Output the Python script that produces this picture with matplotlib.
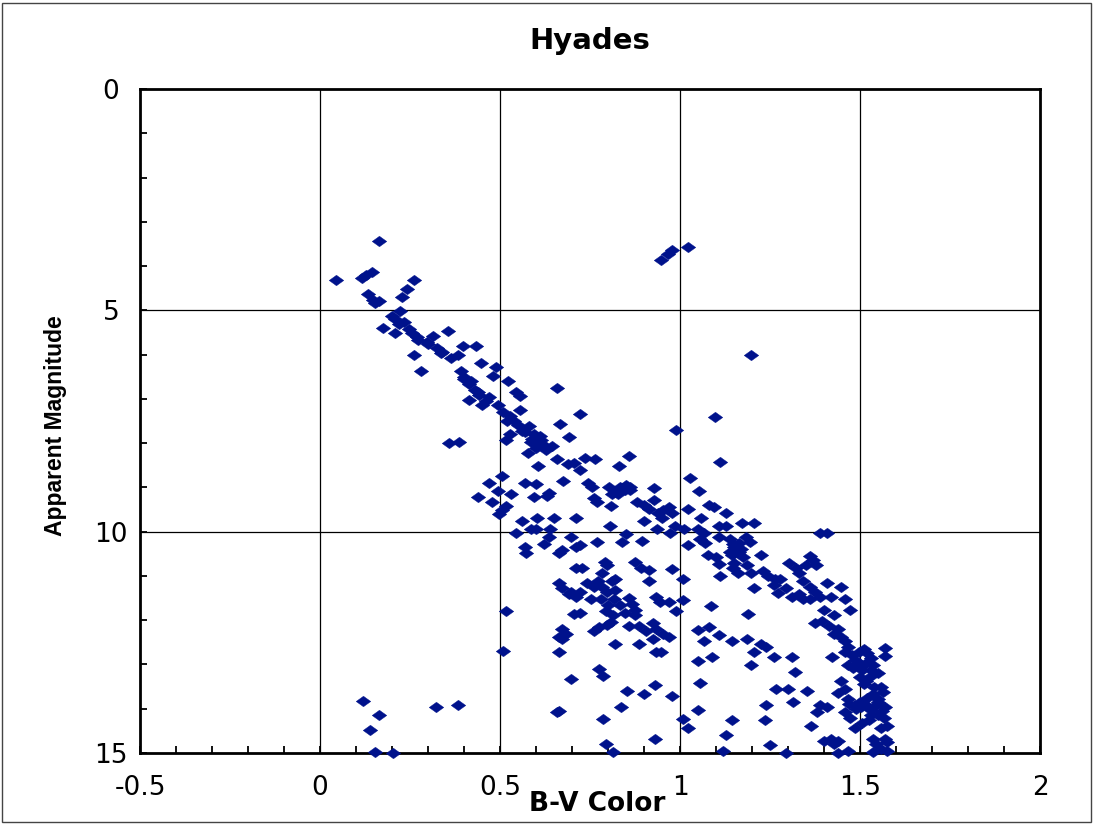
import matplotlib
matplotlib.use("Agg")
import matplotlib.pyplot as plt
from matplotlib.ticker import MultipleLocator
from matplotlib.patches import Rectangle

# Hyades colour-magnitude data: B-V colour index and apparent V magnitude
bv = [
    0.165, 0.045, 0.116, 0.128, 0.143, 0.132, 0.147, 0.165, 0.153, 0.262,
    0.242, 0.229, 0.174, 0.221, 0.200, 0.209, 0.209, 0.233, 0.246, 0.256,
    0.271, 0.260, 0.281, 0.298, 0.314, 0.324, 0.337, 0.355, 0.364, 0.382,
    0.397, 0.432, 0.448, 0.488, 0.391, 0.401, 0.415, 0.430, 0.442, 0.415,
    0.450, 0.481, 0.523, 0.543, 0.556, 0.494, 0.508, 0.527, 0.539, 0.556,
    0.516, 0.527, 0.581, 0.595, 0.608, 0.624, 0.578, 0.643, 0.657, 0.692,
    0.667, 0.721, 0.357, 0.386, 0.988, 1.097, 1.110, 1.196, 0.946, 0.967,
    0.979, 1.021, 0.562, 0.585, 0.614, 0.628,
    0.440, 0.460, 0.470, 0.520, 0.550, 0.570, 0.590, 0.610, 0.600, 0.300,
    0.340, 0.270, 0.220, 0.400, 0.420,
    # upper main sequence continuation
    0.657, 0.688, 0.705, 0.723, 0.736, 0.764, 0.674, 0.744, 0.756, 0.605,
    0.506, 0.469, 0.570, 0.599, 0.636, 0.630, 0.595, 0.531, 0.494, 0.438,
    0.479, 0.516, 0.506, 0.496, 0.562, 0.603, 0.649, 0.585, 0.601, 0.543,
    0.640, 0.570, 0.622, 0.572, 0.636, 0.663, 0.672, 0.698, 0.711, 0.721,
    0.769, 0.711, 0.760, 0.769, 0.831, 0.857, 0.802, 0.818, 0.834, 0.848,
    0.862, 0.812, 0.828, 0.808, 0.880, 0.899, 0.928, 0.928, 0.915, 0.940,
    0.953, 0.969, 0.977, 0.950, 0.901, 0.806, 0.839, 0.851, 0.895, 0.936,
    0.973, 0.986, 1.012, 1.023, 1.027, 1.054, 1.081, 1.093, 1.128, 1.058,
    1.050, 1.066, 1.109, 1.128, 1.171, 1.205, 1.021, 1.056, 1.070, 1.109,
    1.138, 1.147, 1.163, 1.182, 1.194, 1.079, 1.099, 1.143, 1.151, 1.163,
    1.176, 1.225, 1.109, 1.147, 1.186, 1.196, 1.231, 1.244, 1.112, 1.161,
    1.264, 1.205, 1.260, 1.279, 1.273, 1.293, 1.302, 1.322, 1.331, 1.351,
    1.360, 1.370, 1.378, 1.341, 1.360, 1.409, 1.390, 1.409, 1.312, 1.331,
    1.341, 1.360, 1.376, 1.390, 1.419, 1.448, 1.457, 1.399, 1.428, 1.473,
    1.376, 1.395,
    0.840, 0.860, 0.850, 0.830, 1.150, 1.170, 1.140,
    # fainter field population
    0.663, 0.672, 0.698, 0.711, 0.692, 0.721, 0.742, 0.760, 0.771, 0.791,
    0.798, 0.783, 0.810, 0.818, 0.783, 0.798, 0.818, 0.711, 0.729, 0.876,
    0.892, 0.915, 0.977, 1.008, 0.913, 0.934, 0.944, 0.969, 1.008, 0.988,
    0.752, 0.781, 0.800, 0.816, 0.833, 0.857, 0.866, 0.874, 0.847, 0.876,
    0.795, 0.814, 0.798, 0.808, 0.705, 0.723, 0.760, 0.775, 0.672, 0.682,
    0.663, 0.672, 0.663, 0.818, 0.857, 0.886, 0.905, 0.924, 0.934, 0.953,
    0.886, 0.924, 0.934, 0.948, 0.969, 0.517, 0.508, 0.698, 0.775, 0.785,
    0.853, 0.837, 0.899, 0.930, 0.977, 0.785, 0.795, 0.814, 0.930, 0.663,
    0.657, 1.008, 1.021, 1.050, 1.056, 1.050, 1.089, 1.050, 1.081, 1.066,
    1.109, 1.143, 1.085, 1.190, 1.186, 1.196, 1.205, 1.225, 1.240, 1.260,
    1.312, 1.318, 1.267, 1.300, 1.240, 1.236, 1.314, 1.353, 1.143, 1.128,
    1.118, 1.250, 1.295,
    0.120, 0.165, 0.140, 0.153, 0.202, 0.322, 0.384,
    # lower main sequence
    1.415, 1.428, 1.438, 1.448, 1.457, 1.467, 1.422, 1.457, 1.477, 1.486,
    1.496, 1.512, 1.467, 1.481, 1.496, 1.506, 1.516, 1.500, 1.516, 1.531,
    1.535, 1.568, 1.568, 1.448, 1.457, 1.438, 1.467, 1.486, 1.502, 1.516,
    1.531, 1.545, 1.558, 1.564, 1.570, 1.550, 1.535, 1.390, 1.409, 1.380,
    1.364, 1.457, 1.473, 1.486, 1.506, 1.525, 1.550, 1.566, 1.558, 1.574,
    1.399, 1.419, 1.428, 1.438, 1.467, 1.438, 1.535, 1.545, 1.558, 1.570,
    1.576, 1.574, 1.535,
    1.520, 1.530, 1.500, 1.530, 1.550, 1.510, 1.540, 1.520, 1.550, 1.560,
    1.530, 1.490, 1.500, 1.470,
]

vmag = [
    3.44, 4.31, 4.26, 4.21, 4.13, 4.63, 4.77, 4.79, 4.83, 4.31,
    4.51, 4.69, 5.40, 5.02, 5.13, 5.19, 5.52, 5.27, 5.42, 5.51,
    5.68, 6.02, 6.37, 5.72, 5.58, 5.86, 5.96, 5.46, 6.08, 6.02,
    5.80, 5.80, 6.19, 6.28, 6.36, 6.55, 6.67, 6.79, 6.91, 7.03,
    7.14, 6.49, 6.60, 6.85, 6.93, 7.14, 7.29, 7.38, 7.50, 7.26,
    7.92, 7.80, 7.62, 7.80, 8.01, 8.06, 8.23, 8.06, 6.76, 7.86,
    7.56, 7.35, 8.00, 7.97, 7.70, 7.42, 8.43, 6.02, 3.87, 3.73,
    3.63, 3.56, 7.73, 7.97, 7.92, 8.15,
    6.85, 7.05, 6.95, 7.50, 7.60, 7.75, 7.90, 7.85, 8.10, 5.75,
    5.95, 5.60, 5.30, 6.50, 6.60,
    8.35, 8.47, 8.45, 8.60, 8.33, 8.35, 8.86, 8.90, 8.98, 8.51,
    8.75, 8.90, 8.90, 8.92, 9.12, 9.19, 9.22, 9.16, 9.08, 9.22,
    9.34, 9.43, 9.51, 9.61, 9.75, 9.69, 9.69, 9.93, 9.93, 10.02,
    9.93, 10.35, 10.29, 10.49, 10.11, 10.49, 10.41, 10.11, 10.35, 10.31,
    10.23, 9.69, 9.24, 9.34, 8.51, 8.28, 8.98, 9.10, 8.98, 9.06,
    9.00, 9.16, 9.16, 9.42, 9.34, 9.40, 9.02, 9.28, 9.48, 9.58,
    9.51, 9.45, 9.58, 9.69, 9.75, 9.87, 10.23, 10.05, 10.21, 9.93,
    10.02, 9.87, 9.93, 9.49, 8.78, 9.08, 9.40, 9.45, 9.58, 9.69,
    9.93, 10.02, 9.87, 9.87, 9.81, 9.81, 10.31, 10.17, 10.25, 10.11,
    10.17, 10.29, 10.25, 10.11, 10.23, 10.52, 10.58, 10.52, 10.70, 10.46,
    10.58, 10.52, 10.74, 10.82, 10.76, 10.94, 10.88, 11.00, 11.00, 10.94,
    11.06, 11.27, 11.20, 11.06, 11.39, 11.27, 10.70, 10.82, 10.94, 10.76,
    10.56, 10.64, 10.76, 11.12, 11.24, 11.15, 10.02, 10.02, 11.47, 11.41,
    11.53, 11.53, 11.36, 11.47, 11.47, 11.24, 11.53, 11.77, 11.89, 11.77,
    12.07, 12.01,
    9.02, 9.05, 8.95, 9.08, 10.35, 10.40, 10.45,
    11.15, 11.27, 11.36, 11.47, 11.41, 11.36, 11.15, 11.24, 11.12, 10.68,
    10.76, 10.94, 11.12, 11.06, 11.24, 11.36, 11.32, 10.82, 10.82, 10.68,
    10.82, 10.86, 10.84, 11.08, 11.12, 11.47, 11.59, 11.59, 11.55, 11.79,
    11.53, 11.53, 11.65, 11.53, 11.65, 11.51, 11.63, 11.77, 11.83, 11.89,
    11.79, 11.89, 12.10, 12.03, 11.86, 11.83, 12.25, 12.15, 12.19, 12.31,
    12.37, 12.42, 12.72, 12.54, 12.13, 12.13, 12.25, 12.07, 12.19, 12.31,
    12.54, 12.42, 12.72, 12.72, 12.37, 11.79, 12.70, 13.34, 13.11, 13.25,
    13.59, 13.97, 13.67, 13.46, 13.71, 14.24, 14.80, 14.98, 14.68, 14.05,
    14.08, 14.24, 14.44, 14.03, 13.43, 12.93, 12.84, 12.22, 12.15, 12.48,
    12.34, 12.48, 11.67, 11.86, 12.42, 13.02, 12.72, 12.54, 12.60, 12.84,
    12.84, 13.17, 13.55, 13.55, 13.91, 14.26, 13.85, 13.59, 14.26, 14.59,
    14.95, 14.83, 15.01,
    13.82, 14.15, 14.48, 14.98, 15.01, 13.97, 13.91,
    12.13, 12.31, 12.19, 12.37, 12.48, 12.60, 12.84, 12.72, 12.78, 12.90,
    12.72, 12.66, 13.02, 13.08, 12.96, 13.13, 12.96, 13.29, 13.37, 13.25,
    13.02, 12.63, 12.82, 13.37, 13.55, 13.64, 13.79, 13.91, 13.97, 13.91,
    14.03, 13.91, 13.50, 13.62, 13.97, 13.79, 13.67, 13.91, 13.97, 14.08,
    14.38, 14.08, 14.20, 14.44, 14.32, 14.26, 14.14, 14.20, 14.44, 14.38,
    14.73, 14.68, 14.80, 14.73, 14.95, 15.00, 14.68, 14.80, 14.92, 14.68,
    14.76, 14.95, 14.98,
    12.75, 12.85, 13.05, 13.12, 13.20, 13.45, 13.50, 13.75, 13.85, 14.05,
    14.15, 14.00, 13.85, 13.90,
]

x_ticks = [-0.5, 0, 0.5, 1, 1.5, 2]
x_tick_labels = ["-0.5", "0", "0.5", "1", "1.5", "2"]
y_ticks = [0, 5, 10, 15]
y_tick_labels = ["0", "5", "10", "15"]

plt.rcParams['font.family'] = ['DejaVu Sans']

fig = plt.figure(figsize=(10.95, 8.25), dpi=100)
fig.patch.set_facecolor('white')
fig.patches.append(Rectangle((0.002, 0.004), 0.994, 0.992, transform=fig.transFigure,
                             fill=False, edgecolor='#444444', linewidth=1.0))

ax = fig.add_axes([0.1279, 0.0873, 0.8219, 0.8048])

# flattened diamond marker
diamond = [(-1.0, 0.0), (0.0, 0.72), (1.0, 0.0), (0.0, -0.72), (-1.0, 0.0)]
ax.scatter(bv, vmag, marker=diamond, s=110, color='#00128C', edgecolors='#00128C',
           linewidths=0.3, zorder=3, clip_on=False)

ax.set_xlim(-0.5, 2)
ax.set_ylim(15, 0)
ax.set_xticks(x_ticks)
ax.set_xticklabels(x_tick_labels)
ax.set_yticks(y_ticks)
ax.set_yticklabels(y_tick_labels)
ax.xaxis.set_minor_locator(MultipleLocator(0.1))
ax.yaxis.set_minor_locator(MultipleLocator(1))

ax.tick_params(axis='both', which='both', direction='in', length=5, width=1.3,
               color='black', labelsize=19, top=False, right=False)
ax.tick_params(axis='x', which='major', pad=16)
ax.tick_params(axis='y', which='major', pad=21)
for lbl in ax.get_yticklabels():
    lbl.set_horizontalalignment('center')

for v in [0, 0.5, 1, 1.5]:
    ax.axvline(v, color='black', linewidth=0.9, zorder=1)
for v in [5, 10]:
    ax.axhline(v, color='black', linewidth=0.9, zorder=1)

for s in ax.spines.values():
    s.set_linewidth(2)
    s.set_color('black')

ax.set_title("Hyades", fontsize=21, fontweight='bold', pad=29)

ax.set_xlabel("B-V Color", fontsize=19, fontweight='bold')
ax.xaxis.set_label_coords(0.508, -0.057)
ax.xaxis.label.set_verticalalignment('top')

ax.set_ylabel("Apparent Magnitude", fontsize=16.5, fontweight='bold',
              family=['Liberation Sans', 'DejaVu Sans'])
ax.yaxis.set_label_coords(-0.094, 0.4925)
ax.yaxis.label.set_verticalalignment('center')

fig.savefig("out.png", dpi=100, facecolor='white')
